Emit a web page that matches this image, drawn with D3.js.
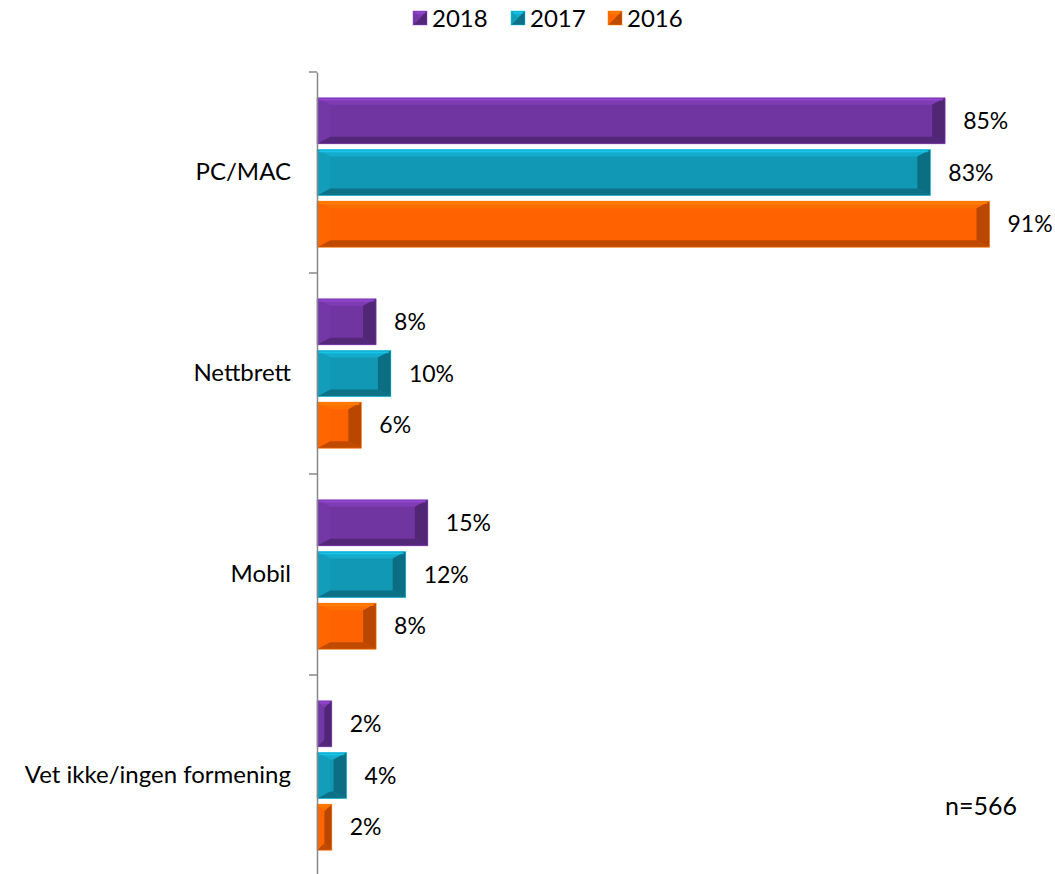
<!DOCTYPE html>
<html>
<head>
<meta charset="utf-8">
<script src="https://cdn.jsdelivr.net/npm/d3@7"></script>
<style>
  body { margin: 0; background: #fff; }
  text { font-family: Lato, "Open Sans", sans-serif; fill: #000; }
</style>
</head>
<body>
<div id="chart"></div>
<script>
// data
const categories = ["PC/MAC", "Nettbrett", "Mobil", "Vet ikke/ingen formening"];
const seriesNames = ["2018", "2017", "2016"];
const values2018 = [85, 8, 15, 2];
const values2017 = [83, 10, 12, 4];
const values2016 = [91, 6, 8, 2];
const colors = ["#7035A0", "#1198B4", "#FF6200"];

const W = 1055, H = 874;
const margin = { top: 72, bottom: -2, left: 317, right: 0 };

const svg = d3.select("#chart").append("svg")
    .attr("width", W).attr("height", H);

const xscale = d3.scaleLinear().domain([0, 100]).range([margin.left, margin.left + 739]);
const yscale = d3.scaleBand().domain(categories).range([margin.top, H - margin.bottom]);
const inner = d3.scaleBand().domain(seriesNames)
    .range([0, yscale.bandwidth()]).paddingInner(0.11).paddingOuter(0.5);

const table = categories.map((c, i) => ({
  cat: c,
  vals: [values2018[i], values2017[i], values2016[i]]
}));

// bars with bevel
function bevelBar(g, x0, y0, w, h, col) {
  const b = Math.min(13, w / 2), v = Math.min(7, h / 2);
  const c = d3.color(col);
  g.append("rect").attr("x", x0).attr("y", y0).attr("width", w).attr("height", h).attr("fill", col);
  const poly = (pts, fill) => g.append("polygon").attr("points", pts.map(p => p.join(",")).join(" ")).attr("fill", fill);
  // top
  poly([[x0, y0], [x0 + w, y0], [x0 + w - b, y0 + v], [x0 + b, y0 + v]], c.brighter(0.35));
  // bottom
  poly([[x0, y0 + h], [x0 + w, y0 + h], [x0 + w - b, y0 + h - v], [x0 + b, y0 + h - v]], c.darker(0.8));
  // left
  poly([[x0, y0], [x0 + b, y0 + v], [x0 + b, y0 + h - v], [x0, y0 + h]], c.brighter(0.1));
  // right
  poly([[x0 + w, y0], [x0 + w - b, y0 + v], [x0 + w - b, y0 + h - v], [x0 + w, y0 + h]], c.darker(0.9));
  g.append("line").attr("x1", x0 + 2).attr("x2", x0 + w - 2).attr("y1", y0 + 2).attr("y2", y0 + 2)
    .attr("stroke", c.brighter(0.9)).attr("stroke-width", 1.5).attr("opacity", 0.7);
  g.append("rect").attr("x", x0).attr("y", y0).attr("width", w).attr("height", h)
    .attr("fill", "none").attr("stroke", c.brighter(0.8)).attr("stroke-width", 0.8).attr("opacity", 0.6);
}

const groups = svg.selectAll("g.cat").data(table).join("g")
    .attr("class", "cat")
    .attr("transform", d => `translate(0,${yscale(d.cat)})`);

groups.each(function (d) {
  const g = d3.select(this);
  d.vals.forEach((v, j) => {
    const y = inner(seriesNames[j]);
    const w = xscale(v) - xscale(0);
    bevelBar(g, xscale(0), y, w, inner.bandwidth(), colors[j]);
    g.append("text")
      .attr("x", xscale(v) + 18)
      .attr("y", y + inner.bandwidth() / 2)
      .attr("dy", "0.35em")
      .attr("font-size", 23)
      .text(v + "%");
  });
});

// axis
const yaxis = d3.axisLeft(yscale).tickSize(0).tickPadding(26).tickSizeOuter(0);
const gy = svg.append("g").attr("transform", `translate(${margin.left},0)`).call(yaxis);
gy.select(".domain").attr("stroke", "#888").attr("stroke-width", 1.5);
gy.selectAll(".tick text").attr("font-size", 24).attr("font-family", "Lato, 'Open Sans', sans-serif");
svg.append("g").selectAll("line")
  .data(categories.map(c => yscale(c)).concat([H - margin.bottom]))
  .join("line")
  .attr("x1", margin.left - 8).attr("x2", margin.left)
  .attr("y1", d => d).attr("y2", d => d)
  .attr("stroke", "#888").attr("stroke-width", 1.5);

// legend
const legendX = [413, 511, 608];
const lg = svg.append("g").selectAll("g").data(seriesNames).join("g")
  .attr("transform", (d, i) => `translate(${legendX[i]},11)`);
lg.each(function (d, i) { bevelBar(d3.select(this), 0, 0, 14, 14, colors[i]); });
lg.append("text").attr("x", 19).attr("y", 7).attr("dy", "0.36em").attr("font-size", 24).text(d => d);

svg.append("text").attr("x", 945).attr("y", 806).attr("dy", "0.35em").attr("font-size", 25).text("n=566");
</script>
</body>
</html>
